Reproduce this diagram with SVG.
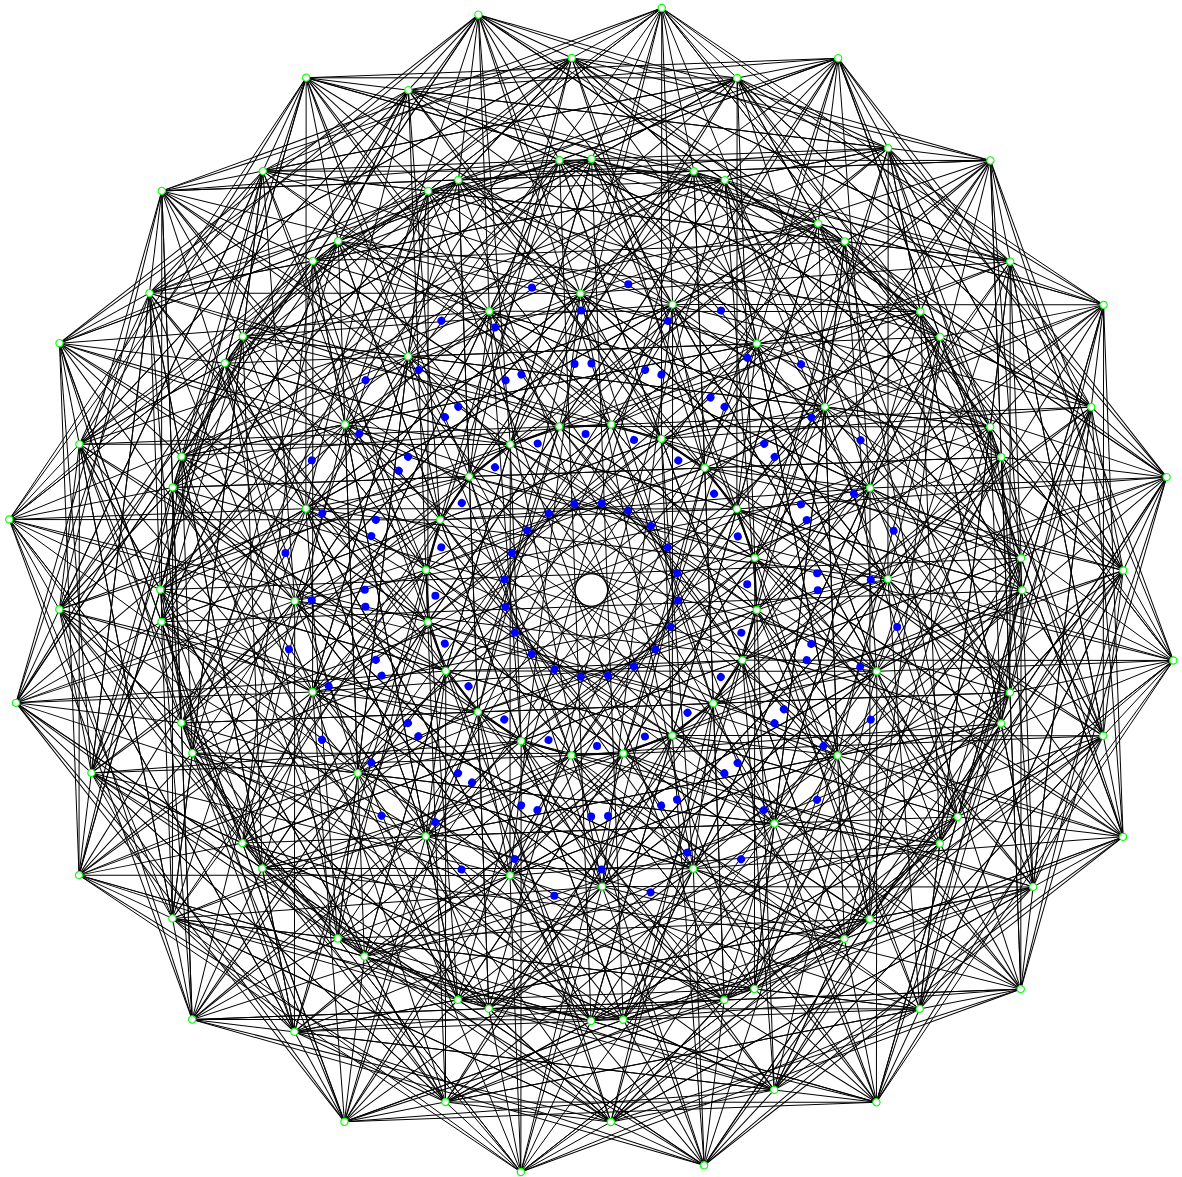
<svg xmlns="http://www.w3.org/2000/svg" width="1182" height="1177" viewBox="0 0 1182 1177">
<style>
.g{fill:#fff;stroke:#00ff00;stroke-width:1.2}
.b{fill:#0000ff;stroke:none}
</style>
<defs>
<g id="sec" stroke="#000" stroke-width="1" fill="none">
<line x1="661.74" y1="7.95" x2="1103.59" y2="304.86"/>
<line x1="661.74" y1="7.95" x2="1010.19" y2="261.55"/>
<line x1="661.74" y1="7.95" x2="262.85" y2="171.11"/>
<line x1="661.74" y1="7.95" x2="1091.18" y2="407.07"/>
<line x1="661.74" y1="7.95" x2="149.48" y2="293.11"/>
<line x1="661.74" y1="7.95" x2="428.17" y2="191.06"/>
<line x1="661.74" y1="7.95" x2="990.24" y2="426.87"/>
<line x1="661.74" y1="7.95" x2="693.82" y2="171.37"/>
<line x1="661.74" y1="7.95" x2="312.88" y2="261.00"/>
<line x1="661.74" y1="7.95" x2="844.88" y2="241.49"/>
<line x1="661.74" y1="7.95" x2="242.79" y2="336.42"/>
<line x1="661.74" y1="7.95" x2="591.60" y2="159.00"/>
<line x1="661.74" y1="7.95" x2="940.16" y2="336.91"/>
<line x1="661.74" y1="7.95" x2="824.86" y2="406.86"/>
<line x1="661.74" y1="7.95" x2="408.16" y2="356.44"/>
<line x1="661.74" y1="7.95" x2="672.61" y2="304.55"/>
<line x1="661.74" y1="7.95" x2="580.42" y2="293.40"/>
<line x1="661.74" y1="7.95" x2="661.44" y2="438.89"/>
<line x1="661.74" y1="7.95" x2="559.23" y2="426.52"/>
<line x1="1010.19" y1="261.55" x2="1091.18" y2="407.07"/>
<line x1="1010.19" y1="261.55" x2="428.17" y2="191.06"/>
<line x1="1010.19" y1="261.55" x2="990.24" y2="426.87"/>
<line x1="1010.19" y1="261.55" x2="1021.12" y2="558.13"/>
<line x1="1010.19" y1="261.55" x2="1009.93" y2="692.52"/>
<line x1="1010.19" y1="261.55" x2="939.81" y2="843.58"/>
<line x1="1010.19" y1="261.55" x2="844.88" y2="241.49"/>
<line x1="1010.19" y1="261.55" x2="724.77" y2="180.19"/>
<line x1="1010.19" y1="261.55" x2="591.60" y2="159.00"/>
<line x1="1010.19" y1="261.55" x2="580.42" y2="293.40"/>
<line x1="1010.19" y1="261.55" x2="876.75" y2="671.31"/>
<line x1="1010.19" y1="261.55" x2="756.69" y2="609.99"/>
<line x1="1010.19" y1="261.55" x2="611.31" y2="424.61"/>
<line x1="1010.19" y1="261.55" x2="713.34" y2="703.41"/>
<line x1="1010.19" y1="261.55" x2="510.28" y2="444.43"/>
<line x1="844.88" y1="241.49" x2="559.43" y2="160.18"/>
<line x1="844.88" y1="241.49" x2="693.82" y2="171.37"/>
<line x1="844.88" y1="241.49" x2="312.88" y2="261.00"/>
<line x1="844.88" y1="241.49" x2="957.77" y2="816.86"/>
<line x1="844.88" y1="241.49" x2="774.44" y2="823.56"/>
<line x1="844.88" y1="241.49" x2="824.86" y2="406.86"/>
<line x1="844.88" y1="241.49" x2="876.75" y2="671.31"/>
<line x1="844.88" y1="241.49" x2="344.95" y2="424.46"/>
<line x1="844.88" y1="241.49" x2="425.91" y2="570.01"/>
<line x1="844.88" y1="241.49" x2="611.31" y2="424.61"/>
<line x1="844.88" y1="241.49" x2="742.41" y2="660.14"/>
<line x1="844.88" y1="241.49" x2="364.44" y2="956.47"/>
<line x1="428.17" y1="191.06" x2="357.74" y2="773.14"/>
<line x1="428.17" y1="191.06" x2="408.16" y2="356.44"/>
<line x1="428.17" y1="191.06" x2="294.70" y2="600.88"/>
<line x1="428.17" y1="191.06" x2="870.02" y2="488.00"/>
<line x1="428.17" y1="191.06" x2="756.69" y2="609.99"/>
<line x1="428.17" y1="191.06" x2="611.31" y2="424.61"/>
<line x1="428.17" y1="191.06" x2="427.82" y2="622.07"/>
<line x1="824.86" y1="406.86" x2="312.58" y2="692.00"/>
<line x1="824.86" y1="406.86" x2="425.91" y2="570.01"/>
<line x1="824.86" y1="406.86" x2="571.29" y2="755.39"/>
<line x1="824.86" y1="406.86" x2="661.44" y2="438.89"/>
<line x1="824.86" y1="406.86" x2="754.78" y2="557.93"/>
<line x1="611.31" y1="424.61" x2="713.34" y2="703.41"/>
</g>
</defs>
<rect width="1182" height="1177" fill="#fff"/>
<g id="connectors" stroke="#000" stroke-width="1" fill="none">
<use href="#sec"/>
<use href="#sec" transform="rotate(18 591.3 590)"/>
<use href="#sec" transform="rotate(36 591.3 590)"/>
<use href="#sec" transform="rotate(54 591.3 590)"/>
<use href="#sec" transform="rotate(72 591.3 590)"/>
<use href="#sec" transform="rotate(90 591.3 590)"/>
<use href="#sec" transform="rotate(108 591.3 590)"/>
<use href="#sec" transform="rotate(126 591.3 590)"/>
<use href="#sec" transform="rotate(144 591.3 590)"/>
<use href="#sec" transform="rotate(162 591.3 590)"/>
<use href="#sec" transform="rotate(180 591.3 590)"/>
<use href="#sec" transform="rotate(198 591.3 590)"/>
<use href="#sec" transform="rotate(216 591.3 590)"/>
<use href="#sec" transform="rotate(234 591.3 590)"/>
<use href="#sec" transform="rotate(252 591.3 590)"/>
<use href="#sec" transform="rotate(270 591.3 590)"/>
<use href="#sec" transform="rotate(288 591.3 590)"/>
<use href="#sec" transform="rotate(306 591.3 590)"/>
<use href="#sec" transform="rotate(324 591.3 590)"/>
<use href="#sec" transform="rotate(342 591.3 590)"/>
</g>
<g id="blue-points">
<g id="a0"><circle class="b" cx="628.31" cy="284.13" r="4"/></g>
<g id="a1" transform="rotate(18 591.3 590)"><circle class="b" cx="628.31" cy="284.13" r="4"/></g>
<g id="a2" transform="rotate(36 591.3 590)"><circle class="b" cx="628.31" cy="284.13" r="4"/></g>
<g id="a3" transform="rotate(54 591.3 590)"><circle class="b" cx="628.31" cy="284.13" r="4"/></g>
<g id="a4" transform="rotate(72 591.3 590)"><circle class="b" cx="628.31" cy="284.13" r="4"/></g>
<g id="a5" transform="rotate(90 591.3 590)"><circle class="b" cx="628.31" cy="284.13" r="4"/></g>
<g id="a6" transform="rotate(108 591.3 590)"><circle class="b" cx="628.31" cy="284.13" r="4"/></g>
<g id="a7" transform="rotate(126 591.3 590)"><circle class="b" cx="628.31" cy="284.13" r="4"/></g>
<g id="a8" transform="rotate(144 591.3 590)"><circle class="b" cx="628.31" cy="284.13" r="4"/></g>
<g id="a9" transform="rotate(162 591.3 590)"><circle class="b" cx="628.31" cy="284.13" r="4"/></g>
<g id="a10" transform="rotate(180 591.3 590)"><circle class="b" cx="628.31" cy="284.13" r="4"/></g>
<g id="a11" transform="rotate(198 591.3 590)"><circle class="b" cx="628.31" cy="284.13" r="4"/></g>
<g id="a12" transform="rotate(216 591.3 590)"><circle class="b" cx="628.31" cy="284.13" r="4"/></g>
<g id="a13" transform="rotate(234 591.3 590)"><circle class="b" cx="628.31" cy="284.13" r="4"/></g>
<g id="a14" transform="rotate(252 591.3 590)"><circle class="b" cx="628.31" cy="284.13" r="4"/></g>
<g id="a15" transform="rotate(270 591.3 590)"><circle class="b" cx="628.31" cy="284.13" r="4"/></g>
<g id="a16" transform="rotate(288 591.3 590)"><circle class="b" cx="628.31" cy="284.13" r="4"/></g>
<g id="a17" transform="rotate(306 591.3 590)"><circle class="b" cx="628.31" cy="284.13" r="4"/></g>
<g id="a18" transform="rotate(324 591.3 590)"><circle class="b" cx="628.31" cy="284.13" r="4"/></g>
<g id="a19" transform="rotate(342 591.3 590)"><circle class="b" cx="628.31" cy="284.13" r="4"/></g>
<g id="b0"><circle class="b" cx="581.05" cy="310.49" r="4"/></g>
<g id="b1" transform="rotate(18 591.3 590)"><circle class="b" cx="581.05" cy="310.49" r="4"/></g>
<g id="b2" transform="rotate(36 591.3 590)"><circle class="b" cx="581.05" cy="310.49" r="4"/></g>
<g id="b3" transform="rotate(54 591.3 590)"><circle class="b" cx="581.05" cy="310.49" r="4"/></g>
<g id="b4" transform="rotate(72 591.3 590)"><circle class="b" cx="581.05" cy="310.49" r="4"/></g>
<g id="b5" transform="rotate(90 591.3 590)"><circle class="b" cx="581.05" cy="310.49" r="4"/></g>
<g id="b6" transform="rotate(108 591.3 590)"><circle class="b" cx="581.05" cy="310.49" r="4"/></g>
<g id="b7" transform="rotate(126 591.3 590)"><circle class="b" cx="581.05" cy="310.49" r="4"/></g>
<g id="b8" transform="rotate(144 591.3 590)"><circle class="b" cx="581.05" cy="310.49" r="4"/></g>
<g id="b9" transform="rotate(162 591.3 590)"><circle class="b" cx="581.05" cy="310.49" r="4"/></g>
<g id="b10" transform="rotate(180 591.3 590)"><circle class="b" cx="581.05" cy="310.49" r="4"/></g>
<g id="b11" transform="rotate(198 591.3 590)"><circle class="b" cx="581.05" cy="310.49" r="4"/></g>
<g id="b12" transform="rotate(216 591.3 590)"><circle class="b" cx="581.05" cy="310.49" r="4"/></g>
<g id="b13" transform="rotate(234 591.3 590)"><circle class="b" cx="581.05" cy="310.49" r="4"/></g>
<g id="b14" transform="rotate(252 591.3 590)"><circle class="b" cx="581.05" cy="310.49" r="4"/></g>
<g id="b15" transform="rotate(270 591.3 590)"><circle class="b" cx="581.05" cy="310.49" r="4"/></g>
<g id="b16" transform="rotate(288 591.3 590)"><circle class="b" cx="581.05" cy="310.49" r="4"/></g>
<g id="b17" transform="rotate(306 591.3 590)"><circle class="b" cx="581.05" cy="310.49" r="4"/></g>
<g id="b18" transform="rotate(324 591.3 590)"><circle class="b" cx="581.05" cy="310.49" r="4"/></g>
<g id="b19" transform="rotate(342 591.3 590)"><circle class="b" cx="581.05" cy="310.49" r="4"/></g>
<g id="c0"><circle class="b" cx="574.55" cy="364.12" r="4"/><circle class="b" cx="591.46" cy="363.5" r="4"/></g>
<g id="c1" transform="rotate(18 591.3 590)"><circle class="b" cx="574.55" cy="364.12" r="4"/><circle class="b" cx="591.46" cy="363.5" r="4"/></g>
<g id="c2" transform="rotate(36 591.3 590)"><circle class="b" cx="574.55" cy="364.12" r="4"/><circle class="b" cx="591.46" cy="363.5" r="4"/></g>
<g id="c3" transform="rotate(54 591.3 590)"><circle class="b" cx="574.55" cy="364.12" r="4"/><circle class="b" cx="591.46" cy="363.5" r="4"/></g>
<g id="c4" transform="rotate(72 591.3 590)"><circle class="b" cx="574.55" cy="364.12" r="4"/><circle class="b" cx="591.46" cy="363.5" r="4"/></g>
<g id="c5" transform="rotate(90 591.3 590)"><circle class="b" cx="574.55" cy="364.12" r="4"/><circle class="b" cx="591.46" cy="363.5" r="4"/></g>
<g id="c6" transform="rotate(108 591.3 590)"><circle class="b" cx="574.55" cy="364.12" r="4"/><circle class="b" cx="591.46" cy="363.5" r="4"/></g>
<g id="c7" transform="rotate(126 591.3 590)"><circle class="b" cx="574.55" cy="364.12" r="4"/><circle class="b" cx="591.46" cy="363.5" r="4"/></g>
<g id="c8" transform="rotate(144 591.3 590)"><circle class="b" cx="574.55" cy="364.12" r="4"/><circle class="b" cx="591.46" cy="363.5" r="4"/></g>
<g id="c9" transform="rotate(162 591.3 590)"><circle class="b" cx="574.55" cy="364.12" r="4"/><circle class="b" cx="591.46" cy="363.5" r="4"/></g>
<g id="c10" transform="rotate(180 591.3 590)"><circle class="b" cx="574.55" cy="364.12" r="4"/><circle class="b" cx="591.46" cy="363.5" r="4"/></g>
<g id="c11" transform="rotate(198 591.3 590)"><circle class="b" cx="574.55" cy="364.12" r="4"/><circle class="b" cx="591.46" cy="363.5" r="4"/></g>
<g id="c12" transform="rotate(216 591.3 590)"><circle class="b" cx="574.55" cy="364.12" r="4"/><circle class="b" cx="591.46" cy="363.5" r="4"/></g>
<g id="c13" transform="rotate(234 591.3 590)"><circle class="b" cx="574.55" cy="364.12" r="4"/><circle class="b" cx="591.46" cy="363.5" r="4"/></g>
<g id="c14" transform="rotate(252 591.3 590)"><circle class="b" cx="574.55" cy="364.12" r="4"/><circle class="b" cx="591.46" cy="363.5" r="4"/></g>
<g id="c15" transform="rotate(270 591.3 590)"><circle class="b" cx="574.55" cy="364.12" r="4"/><circle class="b" cx="591.46" cy="363.5" r="4"/></g>
<g id="c16" transform="rotate(288 591.3 590)"><circle class="b" cx="574.55" cy="364.12" r="4"/><circle class="b" cx="591.46" cy="363.5" r="4"/></g>
<g id="c17" transform="rotate(306 591.3 590)"><circle class="b" cx="574.55" cy="364.12" r="4"/><circle class="b" cx="591.46" cy="363.5" r="4"/></g>
<g id="c18" transform="rotate(324 591.3 590)"><circle class="b" cx="574.55" cy="364.12" r="4"/><circle class="b" cx="591.46" cy="363.5" r="4"/></g>
<g id="c19" transform="rotate(342 591.3 590)"><circle class="b" cx="574.55" cy="364.12" r="4"/><circle class="b" cx="591.46" cy="363.5" r="4"/></g>
<g id="d0"><circle class="b" cx="585.58" cy="434.10" r="4"/></g>
<g id="d1" transform="rotate(18 591.3 590)"><circle class="b" cx="585.58" cy="434.10" r="4"/></g>
<g id="d2" transform="rotate(36 591.3 590)"><circle class="b" cx="585.58" cy="434.10" r="4"/></g>
<g id="d3" transform="rotate(54 591.3 590)"><circle class="b" cx="585.58" cy="434.10" r="4"/></g>
<g id="d4" transform="rotate(72 591.3 590)"><circle class="b" cx="585.58" cy="434.10" r="4"/></g>
<g id="d5" transform="rotate(90 591.3 590)"><circle class="b" cx="585.58" cy="434.10" r="4"/></g>
<g id="d6" transform="rotate(108 591.3 590)"><circle class="b" cx="585.58" cy="434.10" r="4"/></g>
<g id="d7" transform="rotate(126 591.3 590)"><circle class="b" cx="585.58" cy="434.10" r="4"/></g>
<g id="d8" transform="rotate(144 591.3 590)"><circle class="b" cx="585.58" cy="434.10" r="4"/></g>
<g id="d9" transform="rotate(162 591.3 590)"><circle class="b" cx="585.58" cy="434.10" r="4"/></g>
<g id="d10" transform="rotate(180 591.3 590)"><circle class="b" cx="585.58" cy="434.10" r="4"/></g>
<g id="d11" transform="rotate(198 591.3 590)"><circle class="b" cx="585.58" cy="434.10" r="4"/></g>
<g id="d12" transform="rotate(216 591.3 590)"><circle class="b" cx="585.58" cy="434.10" r="4"/></g>
<g id="d13" transform="rotate(234 591.3 590)"><circle class="b" cx="585.58" cy="434.10" r="4"/></g>
<g id="d14" transform="rotate(252 591.3 590)"><circle class="b" cx="585.58" cy="434.10" r="4"/></g>
<g id="d15" transform="rotate(270 591.3 590)"><circle class="b" cx="585.58" cy="434.10" r="4"/></g>
<g id="d16" transform="rotate(288 591.3 590)"><circle class="b" cx="585.58" cy="434.10" r="4"/></g>
<g id="d17" transform="rotate(306 591.3 590)"><circle class="b" cx="585.58" cy="434.10" r="4"/></g>
<g id="d18" transform="rotate(324 591.3 590)"><circle class="b" cx="585.58" cy="434.10" r="4"/></g>
<g id="d19" transform="rotate(342 591.3 590)"><circle class="b" cx="585.58" cy="434.10" r="4"/></g>
<g id="e0"><circle class="b" cx="601.81" cy="503.13" r="4"/></g>
<g id="e1" transform="rotate(18 591.3 590)"><circle class="b" cx="601.81" cy="503.13" r="4"/></g>
<g id="e2" transform="rotate(36 591.3 590)"><circle class="b" cx="601.81" cy="503.13" r="4"/></g>
<g id="e3" transform="rotate(54 591.3 590)"><circle class="b" cx="601.81" cy="503.13" r="4"/></g>
<g id="e4" transform="rotate(72 591.3 590)"><circle class="b" cx="601.81" cy="503.13" r="4"/></g>
<g id="e5" transform="rotate(90 591.3 590)"><circle class="b" cx="601.81" cy="503.13" r="4"/></g>
<g id="e6" transform="rotate(108 591.3 590)"><circle class="b" cx="601.81" cy="503.13" r="4"/></g>
<g id="e7" transform="rotate(126 591.3 590)"><circle class="b" cx="601.81" cy="503.13" r="4"/></g>
<g id="e8" transform="rotate(144 591.3 590)"><circle class="b" cx="601.81" cy="503.13" r="4"/></g>
<g id="e9" transform="rotate(162 591.3 590)"><circle class="b" cx="601.81" cy="503.13" r="4"/></g>
<g id="e10" transform="rotate(180 591.3 590)"><circle class="b" cx="601.81" cy="503.13" r="4"/></g>
<g id="e11" transform="rotate(198 591.3 590)"><circle class="b" cx="601.81" cy="503.13" r="4"/></g>
<g id="e12" transform="rotate(216 591.3 590)"><circle class="b" cx="601.81" cy="503.13" r="4"/></g>
<g id="e13" transform="rotate(234 591.3 590)"><circle class="b" cx="601.81" cy="503.13" r="4"/></g>
<g id="e14" transform="rotate(252 591.3 590)"><circle class="b" cx="601.81" cy="503.13" r="4"/></g>
<g id="e15" transform="rotate(270 591.3 590)"><circle class="b" cx="601.81" cy="503.13" r="4"/></g>
<g id="e16" transform="rotate(288 591.3 590)"><circle class="b" cx="601.81" cy="503.13" r="4"/></g>
<g id="e17" transform="rotate(306 591.3 590)"><circle class="b" cx="601.81" cy="503.13" r="4"/></g>
<g id="e18" transform="rotate(324 591.3 590)"><circle class="b" cx="601.81" cy="503.13" r="4"/></g>
<g id="e19" transform="rotate(342 591.3 590)"><circle class="b" cx="601.81" cy="503.13" r="4"/></g>
</g>
<g id="nodes">
<g id="A0"><circle class="g" cx="661.74" cy="7.95" r="3.6"/></g>
<g id="A1" transform="rotate(18 591.3 590)"><circle class="g" cx="661.74" cy="7.95" r="3.6"/></g>
<g id="A2" transform="rotate(36 591.3 590)"><circle class="g" cx="661.74" cy="7.95" r="3.6"/></g>
<g id="A3" transform="rotate(54 591.3 590)"><circle class="g" cx="661.74" cy="7.95" r="3.6"/></g>
<g id="A4" transform="rotate(72 591.3 590)"><circle class="g" cx="661.74" cy="7.95" r="3.6"/></g>
<g id="A5" transform="rotate(90 591.3 590)"><circle class="g" cx="661.74" cy="7.95" r="3.6"/></g>
<g id="A6" transform="rotate(108 591.3 590)"><circle class="g" cx="661.74" cy="7.95" r="3.6"/></g>
<g id="A7" transform="rotate(126 591.3 590)"><circle class="g" cx="661.74" cy="7.95" r="3.6"/></g>
<g id="A8" transform="rotate(144 591.3 590)"><circle class="g" cx="661.74" cy="7.95" r="3.6"/></g>
<g id="A9" transform="rotate(162 591.3 590)"><circle class="g" cx="661.74" cy="7.95" r="3.6"/></g>
<g id="A10" transform="rotate(180 591.3 590)"><circle class="g" cx="661.74" cy="7.95" r="3.6"/></g>
<g id="A11" transform="rotate(198 591.3 590)"><circle class="g" cx="661.74" cy="7.95" r="3.6"/></g>
<g id="A12" transform="rotate(216 591.3 590)"><circle class="g" cx="661.74" cy="7.95" r="3.6"/></g>
<g id="A13" transform="rotate(234 591.3 590)"><circle class="g" cx="661.74" cy="7.95" r="3.6"/></g>
<g id="A14" transform="rotate(252 591.3 590)"><circle class="g" cx="661.74" cy="7.95" r="3.6"/></g>
<g id="A15" transform="rotate(270 591.3 590)"><circle class="g" cx="661.74" cy="7.95" r="3.6"/></g>
<g id="A16" transform="rotate(288 591.3 590)"><circle class="g" cx="661.74" cy="7.95" r="3.6"/></g>
<g id="A17" transform="rotate(306 591.3 590)"><circle class="g" cx="661.74" cy="7.95" r="3.6"/></g>
<g id="A18" transform="rotate(324 591.3 590)"><circle class="g" cx="661.74" cy="7.95" r="3.6"/></g>
<g id="A19" transform="rotate(342 591.3 590)"><circle class="g" cx="661.74" cy="7.95" r="3.6"/></g>
<g id="B0"><circle class="g" cx="571.79" cy="58.06" r="3.6"/></g>
<g id="B1" transform="rotate(18 591.3 590)"><circle class="g" cx="571.79" cy="58.06" r="3.6"/></g>
<g id="B2" transform="rotate(36 591.3 590)"><circle class="g" cx="571.79" cy="58.06" r="3.6"/></g>
<g id="B3" transform="rotate(54 591.3 590)"><circle class="g" cx="571.79" cy="58.06" r="3.6"/></g>
<g id="B4" transform="rotate(72 591.3 590)"><circle class="g" cx="571.79" cy="58.06" r="3.6"/></g>
<g id="B5" transform="rotate(90 591.3 590)"><circle class="g" cx="571.79" cy="58.06" r="3.6"/></g>
<g id="B6" transform="rotate(108 591.3 590)"><circle class="g" cx="571.79" cy="58.06" r="3.6"/></g>
<g id="B7" transform="rotate(126 591.3 590)"><circle class="g" cx="571.79" cy="58.06" r="3.6"/></g>
<g id="B8" transform="rotate(144 591.3 590)"><circle class="g" cx="571.79" cy="58.06" r="3.6"/></g>
<g id="B9" transform="rotate(162 591.3 590)"><circle class="g" cx="571.79" cy="58.06" r="3.6"/></g>
<g id="B10" transform="rotate(180 591.3 590)"><circle class="g" cx="571.79" cy="58.06" r="3.6"/></g>
<g id="B11" transform="rotate(198 591.3 590)"><circle class="g" cx="571.79" cy="58.06" r="3.6"/></g>
<g id="B12" transform="rotate(216 591.3 590)"><circle class="g" cx="571.79" cy="58.06" r="3.6"/></g>
<g id="B13" transform="rotate(234 591.3 590)"><circle class="g" cx="571.79" cy="58.06" r="3.6"/></g>
<g id="B14" transform="rotate(252 591.3 590)"><circle class="g" cx="571.79" cy="58.06" r="3.6"/></g>
<g id="B15" transform="rotate(270 591.3 590)"><circle class="g" cx="571.79" cy="58.06" r="3.6"/></g>
<g id="B16" transform="rotate(288 591.3 590)"><circle class="g" cx="571.79" cy="58.06" r="3.6"/></g>
<g id="B17" transform="rotate(306 591.3 590)"><circle class="g" cx="571.79" cy="58.06" r="3.6"/></g>
<g id="B18" transform="rotate(324 591.3 590)"><circle class="g" cx="571.79" cy="58.06" r="3.6"/></g>
<g id="B19" transform="rotate(342 591.3 590)"><circle class="g" cx="571.79" cy="58.06" r="3.6"/></g>
<g id="C0"><circle class="g" cx="559.43" cy="160.18" r="3.6"/><circle class="g" cx="591.60" cy="159.00" r="3.6"/></g>
<g id="C1" transform="rotate(18 591.3 590)"><circle class="g" cx="559.43" cy="160.18" r="3.6"/><circle class="g" cx="591.60" cy="159.00" r="3.6"/></g>
<g id="C2" transform="rotate(36 591.3 590)"><circle class="g" cx="559.43" cy="160.18" r="3.6"/><circle class="g" cx="591.60" cy="159.00" r="3.6"/></g>
<g id="C3" transform="rotate(54 591.3 590)"><circle class="g" cx="559.43" cy="160.18" r="3.6"/><circle class="g" cx="591.60" cy="159.00" r="3.6"/></g>
<g id="C4" transform="rotate(72 591.3 590)"><circle class="g" cx="559.43" cy="160.18" r="3.6"/><circle class="g" cx="591.60" cy="159.00" r="3.6"/></g>
<g id="C5" transform="rotate(90 591.3 590)"><circle class="g" cx="559.43" cy="160.18" r="3.6"/><circle class="g" cx="591.60" cy="159.00" r="3.6"/></g>
<g id="C6" transform="rotate(108 591.3 590)"><circle class="g" cx="559.43" cy="160.18" r="3.6"/><circle class="g" cx="591.60" cy="159.00" r="3.6"/></g>
<g id="C7" transform="rotate(126 591.3 590)"><circle class="g" cx="559.43" cy="160.18" r="3.6"/><circle class="g" cx="591.60" cy="159.00" r="3.6"/></g>
<g id="C8" transform="rotate(144 591.3 590)"><circle class="g" cx="559.43" cy="160.18" r="3.6"/><circle class="g" cx="591.60" cy="159.00" r="3.6"/></g>
<g id="C9" transform="rotate(162 591.3 590)"><circle class="g" cx="559.43" cy="160.18" r="3.6"/><circle class="g" cx="591.60" cy="159.00" r="3.6"/></g>
<g id="C10" transform="rotate(180 591.3 590)"><circle class="g" cx="559.43" cy="160.18" r="3.6"/><circle class="g" cx="591.60" cy="159.00" r="3.6"/></g>
<g id="C11" transform="rotate(198 591.3 590)"><circle class="g" cx="559.43" cy="160.18" r="3.6"/><circle class="g" cx="591.60" cy="159.00" r="3.6"/></g>
<g id="C12" transform="rotate(216 591.3 590)"><circle class="g" cx="559.43" cy="160.18" r="3.6"/><circle class="g" cx="591.60" cy="159.00" r="3.6"/></g>
<g id="C13" transform="rotate(234 591.3 590)"><circle class="g" cx="559.43" cy="160.18" r="3.6"/><circle class="g" cx="591.60" cy="159.00" r="3.6"/></g>
<g id="C14" transform="rotate(252 591.3 590)"><circle class="g" cx="559.43" cy="160.18" r="3.6"/><circle class="g" cx="591.60" cy="159.00" r="3.6"/></g>
<g id="C15" transform="rotate(270 591.3 590)"><circle class="g" cx="559.43" cy="160.18" r="3.6"/><circle class="g" cx="591.60" cy="159.00" r="3.6"/></g>
<g id="C16" transform="rotate(288 591.3 590)"><circle class="g" cx="559.43" cy="160.18" r="3.6"/><circle class="g" cx="591.60" cy="159.00" r="3.6"/></g>
<g id="C17" transform="rotate(306 591.3 590)"><circle class="g" cx="559.43" cy="160.18" r="3.6"/><circle class="g" cx="591.60" cy="159.00" r="3.6"/></g>
<g id="C18" transform="rotate(324 591.3 590)"><circle class="g" cx="559.43" cy="160.18" r="3.6"/><circle class="g" cx="591.60" cy="159.00" r="3.6"/></g>
<g id="C19" transform="rotate(342 591.3 590)"><circle class="g" cx="559.43" cy="160.18" r="3.6"/><circle class="g" cx="591.60" cy="159.00" r="3.6"/></g>
<g id="D0"><circle class="g" cx="580.42" cy="293.40" r="3.6"/></g>
<g id="D1" transform="rotate(18 591.3 590)"><circle class="g" cx="580.42" cy="293.40" r="3.6"/></g>
<g id="D2" transform="rotate(36 591.3 590)"><circle class="g" cx="580.42" cy="293.40" r="3.6"/></g>
<g id="D3" transform="rotate(54 591.3 590)"><circle class="g" cx="580.42" cy="293.40" r="3.6"/></g>
<g id="D4" transform="rotate(72 591.3 590)"><circle class="g" cx="580.42" cy="293.40" r="3.6"/></g>
<g id="D5" transform="rotate(90 591.3 590)"><circle class="g" cx="580.42" cy="293.40" r="3.6"/></g>
<g id="D6" transform="rotate(108 591.3 590)"><circle class="g" cx="580.42" cy="293.40" r="3.6"/></g>
<g id="D7" transform="rotate(126 591.3 590)"><circle class="g" cx="580.42" cy="293.40" r="3.6"/></g>
<g id="D8" transform="rotate(144 591.3 590)"><circle class="g" cx="580.42" cy="293.40" r="3.6"/></g>
<g id="D9" transform="rotate(162 591.3 590)"><circle class="g" cx="580.42" cy="293.40" r="3.6"/></g>
<g id="D10" transform="rotate(180 591.3 590)"><circle class="g" cx="580.42" cy="293.40" r="3.6"/></g>
<g id="D11" transform="rotate(198 591.3 590)"><circle class="g" cx="580.42" cy="293.40" r="3.6"/></g>
<g id="D12" transform="rotate(216 591.3 590)"><circle class="g" cx="580.42" cy="293.40" r="3.6"/></g>
<g id="D13" transform="rotate(234 591.3 590)"><circle class="g" cx="580.42" cy="293.40" r="3.6"/></g>
<g id="D14" transform="rotate(252 591.3 590)"><circle class="g" cx="580.42" cy="293.40" r="3.6"/></g>
<g id="D15" transform="rotate(270 591.3 590)"><circle class="g" cx="580.42" cy="293.40" r="3.6"/></g>
<g id="D16" transform="rotate(288 591.3 590)"><circle class="g" cx="580.42" cy="293.40" r="3.6"/></g>
<g id="D17" transform="rotate(306 591.3 590)"><circle class="g" cx="580.42" cy="293.40" r="3.6"/></g>
<g id="D18" transform="rotate(324 591.3 590)"><circle class="g" cx="580.42" cy="293.40" r="3.6"/></g>
<g id="D19" transform="rotate(342 591.3 590)"><circle class="g" cx="580.42" cy="293.40" r="3.6"/></g>
<g id="E0"><circle class="g" cx="611.31" cy="424.61" r="3.6"/></g>
<g id="E1" transform="rotate(18 591.3 590)"><circle class="g" cx="611.31" cy="424.61" r="3.6"/></g>
<g id="E2" transform="rotate(36 591.3 590)"><circle class="g" cx="611.31" cy="424.61" r="3.6"/></g>
<g id="E3" transform="rotate(54 591.3 590)"><circle class="g" cx="611.31" cy="424.61" r="3.6"/></g>
<g id="E4" transform="rotate(72 591.3 590)"><circle class="g" cx="611.31" cy="424.61" r="3.6"/></g>
<g id="E5" transform="rotate(90 591.3 590)"><circle class="g" cx="611.31" cy="424.61" r="3.6"/></g>
<g id="E6" transform="rotate(108 591.3 590)"><circle class="g" cx="611.31" cy="424.61" r="3.6"/></g>
<g id="E7" transform="rotate(126 591.3 590)"><circle class="g" cx="611.31" cy="424.61" r="3.6"/></g>
<g id="E8" transform="rotate(144 591.3 590)"><circle class="g" cx="611.31" cy="424.61" r="3.6"/></g>
<g id="E9" transform="rotate(162 591.3 590)"><circle class="g" cx="611.31" cy="424.61" r="3.6"/></g>
<g id="E10" transform="rotate(180 591.3 590)"><circle class="g" cx="611.31" cy="424.61" r="3.6"/></g>
<g id="E11" transform="rotate(198 591.3 590)"><circle class="g" cx="611.31" cy="424.61" r="3.6"/></g>
<g id="E12" transform="rotate(216 591.3 590)"><circle class="g" cx="611.31" cy="424.61" r="3.6"/></g>
<g id="E13" transform="rotate(234 591.3 590)"><circle class="g" cx="611.31" cy="424.61" r="3.6"/></g>
<g id="E14" transform="rotate(252 591.3 590)"><circle class="g" cx="611.31" cy="424.61" r="3.6"/></g>
<g id="E15" transform="rotate(270 591.3 590)"><circle class="g" cx="611.31" cy="424.61" r="3.6"/></g>
<g id="E16" transform="rotate(288 591.3 590)"><circle class="g" cx="611.31" cy="424.61" r="3.6"/></g>
<g id="E17" transform="rotate(306 591.3 590)"><circle class="g" cx="611.31" cy="424.61" r="3.6"/></g>
<g id="E18" transform="rotate(324 591.3 590)"><circle class="g" cx="611.31" cy="424.61" r="3.6"/></g>
<g id="E19" transform="rotate(342 591.3 590)"><circle class="g" cx="611.31" cy="424.61" r="3.6"/></g>
</g>
</svg>
